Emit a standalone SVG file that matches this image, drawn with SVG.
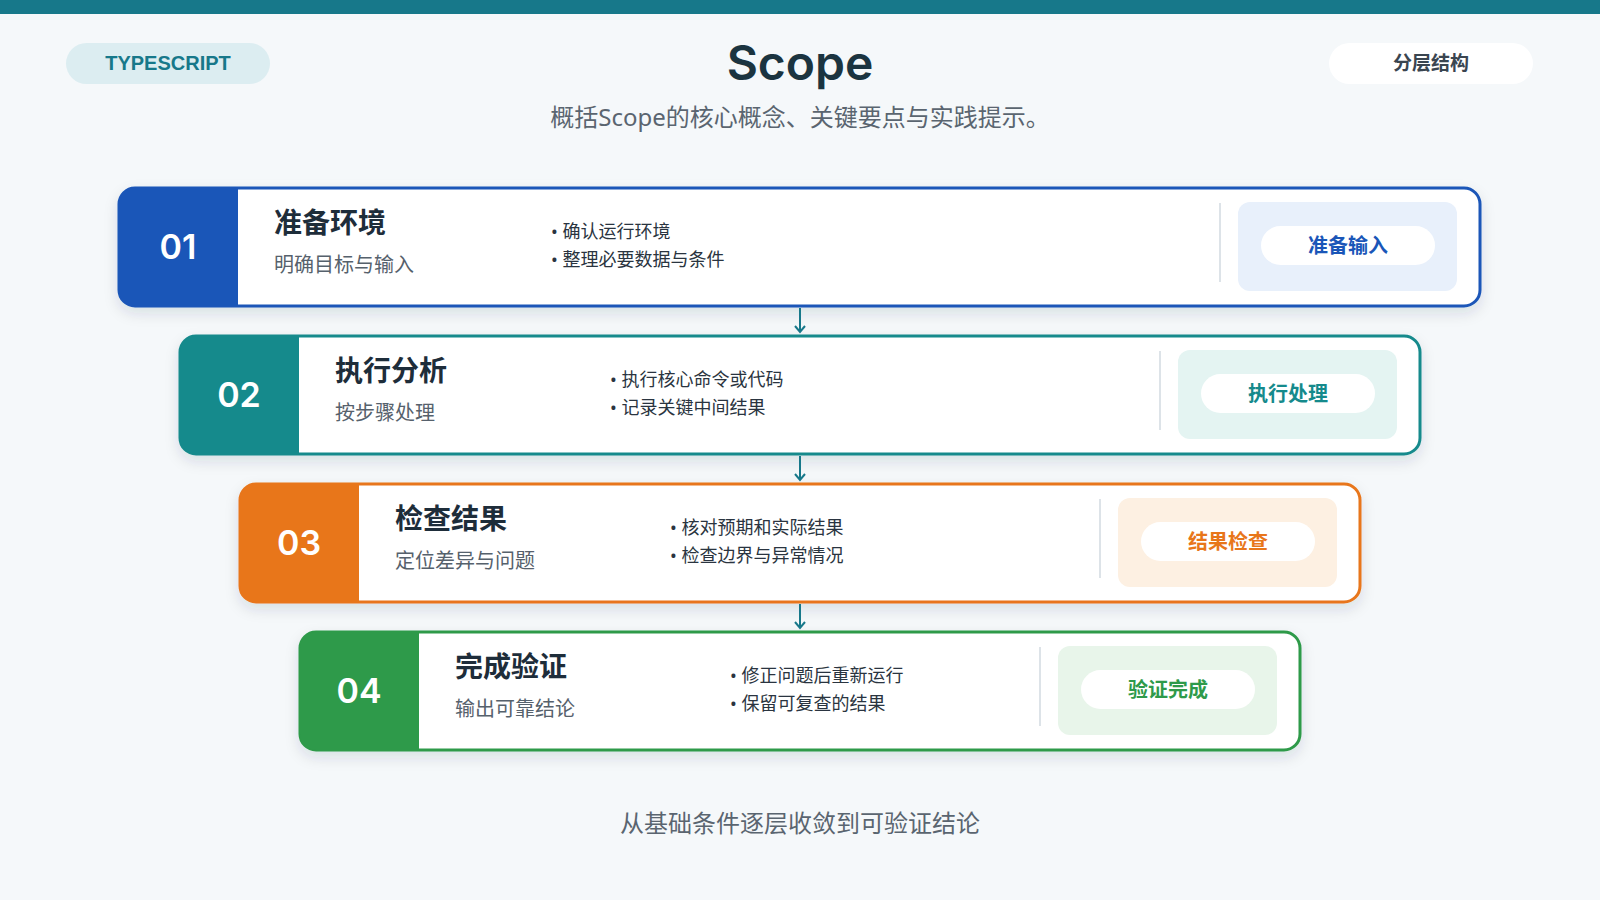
<svg xmlns="http://www.w3.org/2000/svg" width="1600" height="900" viewBox="0 0 1600 900">
<defs>
<filter id="sh" x="-5%" y="-20%" width="110%" height="150%"><feDropShadow dx="0" dy="6" stdDeviation="7" flood-color="#1e3a50" flood-opacity="0.12"/></filter>
<marker id="ar" markerWidth="10" markerHeight="12" refX="7" refY="6" orient="auto" markerUnits="userSpaceOnUse"><path d="M1,1 L7,6 L1,11" fill="none" stroke="#17788a" stroke-width="2"/></marker>
<style>
text{font-family:"Noto Sans","Noto Sans CJK SC",sans-serif}
.num{font-family:"Inter","Noto Sans",sans-serif;font-size:34px;font-weight:600;fill:#fff}
.t{font-size:28px;font-weight:700;fill:#1e2d3a}
.s{font-size:20px;fill:#56616c}
.b{font-size:18px;fill:#2a3440}
.tag{font-size:20px;font-weight:700}
.div{stroke:#dde3e8;stroke-width:2}
</style>
</defs>
<rect width="1600" height="900" fill="#f5f8fa"/>
<rect width="1600" height="14" fill="#17788a"/>
<rect x="66" y="43" width="204" height="41" rx="20.5" fill="#dcedf1"/>
<text x="168" y="70" text-anchor="middle" style="font-family:'Liberation Sans',sans-serif;font-size:20px;font-weight:700;fill:#17788a">TYPESCRIPT</text>
<text x="800" y="80" text-anchor="middle" style="font-family:'Inter','Noto Sans',sans-serif;font-size:48px;font-weight:600;fill:#1b3440">Scope</text>
<text x="800" y="126" text-anchor="middle" style="font-size:24px;fill:#5a6570">概括Scope的核心概念、关键要点与实践提示。</text>
<rect x="1329" y="43" width="204" height="41" rx="20.5" fill="#fff"/>
<text x="1431" y="70" text-anchor="middle" style="font-size:19px;font-weight:700;fill:#3a4550">分层结构</text>

<g id="card1" transform="translate(119,188)">
<rect width="1361" height="118" rx="16" fill="#fff" stroke="#1a56b8" stroke-width="3" filter="url(#sh)"/>
<path d="M16,0 H119 V118 H16 A16,16 0 0 1 0,102 V16 A16,16 0 0 1 16,0Z" fill="#1a56b8"/>
<text x="59" y="71" text-anchor="middle" class="num">01</text>
<text x="155" y="45" class="t">准备环境</text>
<text x="155" y="84" class="s">明确目标与输入</text>
<text x="432" y="50" class="b">• 确认运行环境</text>
<text x="432" y="78" class="b">• 整理必要数据与条件</text>
<line x1="1101" y1="15" x2="1101" y2="94" class="div"/>
<rect x="1119" y="14" width="219" height="89" rx="12" fill="#e8f0fb"/>
<rect x="1142" y="38" width="174" height="39" rx="19.5" fill="#fff"/>
<text x="1229" y="65" text-anchor="middle" class="tag" fill="#1a56b8">准备输入</text>
</g>

<g id="card2" transform="translate(180,336)">
<rect width="1240" height="118" rx="16" fill="#fff" stroke="#158a8c" stroke-width="3" filter="url(#sh)"/>
<path d="M16,0 H119 V118 H16 A16,16 0 0 1 0,102 V16 A16,16 0 0 1 16,0Z" fill="#158a8c"/>
<text x="59" y="71" text-anchor="middle" class="num">02</text>
<text x="155" y="45" class="t">执行分析</text>
<text x="155" y="84" class="s">按步骤处理</text>
<text x="430" y="50" class="b">• 执行核心命令或代码</text>
<text x="430" y="78" class="b">• 记录关键中间结果</text>
<line x1="980" y1="15" x2="980" y2="94" class="div"/>
<rect x="998" y="14" width="219" height="89" rx="12" fill="#e4f4f2"/>
<rect x="1021" y="38" width="174" height="39" rx="19.5" fill="#fff"/>
<text x="1108" y="65" text-anchor="middle" class="tag" fill="#158a8c">执行处理</text>
</g>

<g id="card3" transform="translate(240,484)">
<rect width="1120" height="118" rx="16" fill="#fff" stroke="#e8761a" stroke-width="3" filter="url(#sh)"/>
<path d="M16,0 H119 V118 H16 A16,16 0 0 1 0,102 V16 A16,16 0 0 1 16,0Z" fill="#e8761a"/>
<text x="59" y="71" text-anchor="middle" class="num">03</text>
<text x="155" y="45" class="t">检查结果</text>
<text x="155" y="84" class="s">定位差异与问题</text>
<text x="430" y="50" class="b">• 核对预期和实际结果</text>
<text x="430" y="78" class="b">• 检查边界与异常情况</text>
<line x1="860" y1="15" x2="860" y2="94" class="div"/>
<rect x="878" y="14" width="219" height="89" rx="12" fill="#fdf0e2"/>
<rect x="901" y="38" width="174" height="39" rx="19.5" fill="#fff"/>
<text x="988" y="65" text-anchor="middle" class="tag" fill="#e8761a">结果检查</text>
</g>

<g id="card4" transform="translate(300,632)">
<rect width="1000" height="118" rx="16" fill="#fff" stroke="#2e9a4a" stroke-width="3" filter="url(#sh)"/>
<path d="M16,0 H119 V118 H16 A16,16 0 0 1 0,102 V16 A16,16 0 0 1 16,0Z" fill="#2e9a4a"/>
<text x="59" y="71" text-anchor="middle" class="num">04</text>
<text x="155" y="45" class="t">完成验证</text>
<text x="155" y="84" class="s">输出可靠结论</text>
<text x="430" y="50" class="b">• 修正问题后重新运行</text>
<text x="430" y="78" class="b">• 保留可复查的结果</text>
<line x1="740" y1="15" x2="740" y2="94" class="div"/>
<rect x="758" y="14" width="219" height="89" rx="12" fill="#e8f5ea"/>
<rect x="781" y="38" width="174" height="39" rx="19.5" fill="#fff"/>
<text x="868" y="65" text-anchor="middle" class="tag" fill="#2e9a4a">验证完成</text>
</g>

<g id="connectors" stroke="#17788a" stroke-width="2" fill="none" marker-end="url(#ar)">
<line x1="800" y1="308" x2="800" y2="332"/>
<line x1="800" y1="456" x2="800" y2="480"/>
<line x1="800" y1="604" x2="800" y2="628"/>
</g>

<text x="800" y="832" text-anchor="middle" style="font-size:24px;fill:#5a6570">从基础条件逐层收敛到可验证结论</text>
</svg>
